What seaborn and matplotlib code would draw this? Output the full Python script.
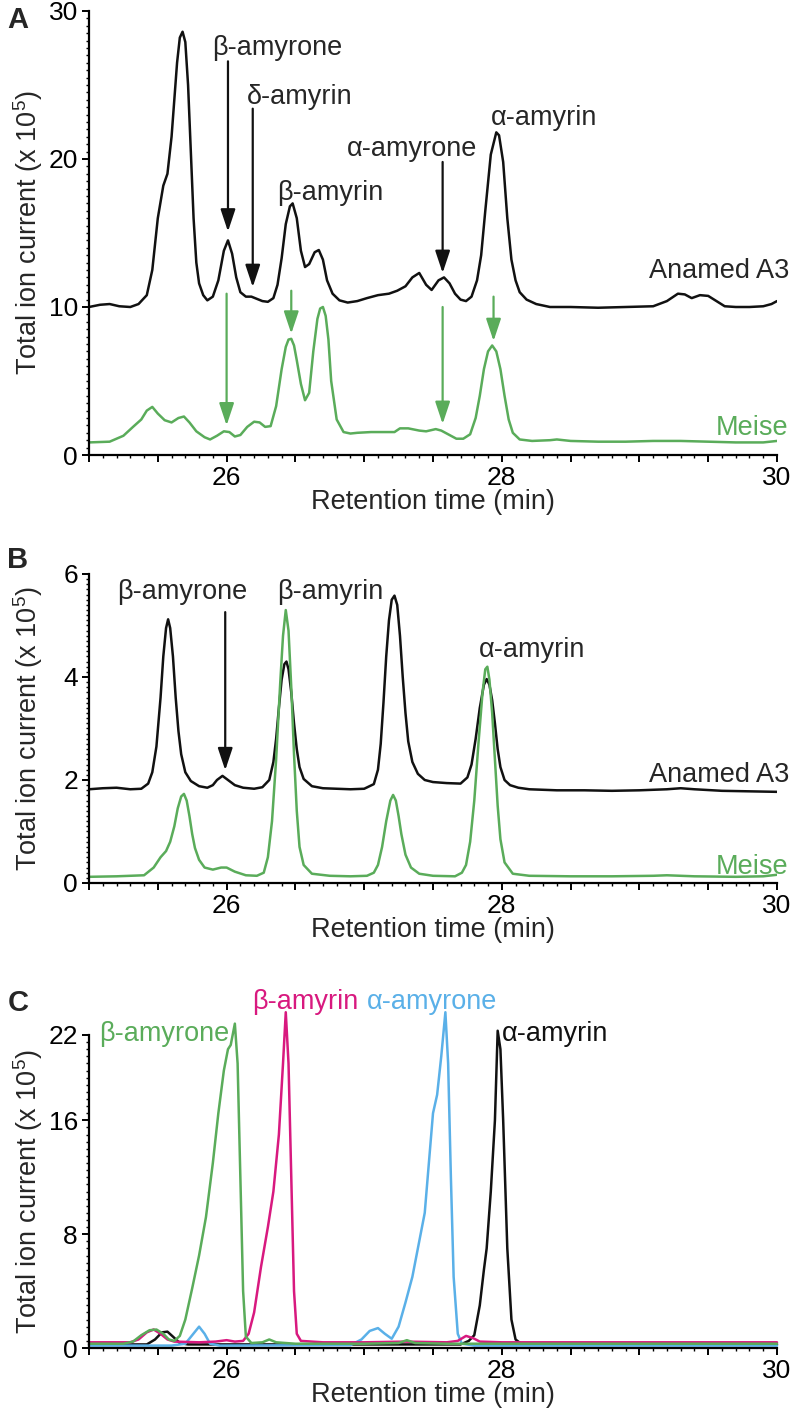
import numpy as np
import seaborn as sns
import matplotlib
matplotlib.use("Agg")
from matplotlib import pyplot as plt
from matplotlib.ticker import MultipleLocator, FixedLocator, FuncFormatter

# ---- panel A : resin samples ----
a_anamed_t = [25.00, 25.08, 25.15, 25.22, 25.30, 25.36, 25.42, 25.46, 25.50, 25.54, 25.57, 25.60, 25.62,
              25.64, 25.66, 25.68, 25.70, 25.72, 25.74, 25.76, 25.78, 25.80, 25.83, 25.86, 25.90, 25.94,
              25.98, 26.01, 26.04, 26.07, 26.10, 26.14, 26.18, 26.22, 26.26, 26.30, 26.34, 26.37, 26.40,
              26.43, 26.46, 26.48, 26.51, 26.54, 26.57, 26.60, 26.64, 26.67, 26.70, 26.73, 26.77, 26.82,
              26.88, 26.95, 27.02, 27.10, 27.18, 27.24, 27.30, 27.35, 27.40, 27.45, 27.49, 27.54, 27.58,
              27.62, 27.66, 27.70, 27.74, 27.78, 27.82, 27.85, 27.88, 27.92, 27.96, 27.98, 28.01, 28.04,
              28.07, 28.10, 28.13, 28.18, 28.25, 28.35, 28.50, 28.70, 28.90, 29.10, 29.20, 29.28, 29.33,
              29.38, 29.44, 29.50, 29.56, 29.62, 29.70, 29.80, 29.90, 29.96, 30.00]
a_anamed_y = [10.0, 10.15, 10.2, 10.05, 10.0, 10.2, 10.8, 12.5, 16.0, 18.2, 19.0, 21.5, 24.0,
              26.5, 28.2, 28.6, 27.9, 25.0, 20.5, 16.0, 13.0, 11.6, 10.8, 10.45, 10.7, 11.8,
              13.8, 14.5, 13.6, 12.0, 11.0, 10.7, 10.7, 10.55, 10.4, 10.35, 10.6, 11.5, 13.3,
              15.6, 16.8, 17.0, 16.0, 13.8, 12.7, 12.9, 13.7, 13.85, 13.2, 11.8, 10.9, 10.45,
              10.3, 10.4, 10.6, 10.8, 10.9, 11.1, 11.4, 12.0, 12.3, 11.5, 11.15, 11.8, 12.0,
              11.6, 10.9, 10.5, 10.4, 10.7, 11.8, 13.5, 16.5, 20.3, 21.8, 21.6, 19.8, 16.0,
              13.2, 11.8, 11.0, 10.5, 10.2, 10.0, 10.0, 9.95, 10.0, 10.05, 10.4, 10.9, 10.85,
              10.6, 10.8, 10.75, 10.4, 10.05, 10.0, 10.0, 10.05, 10.2, 10.4]

a_meise_t = [25.00, 25.15, 25.25, 25.32, 25.38, 25.42, 25.46, 25.50, 25.55, 25.60, 25.65, 25.69, 25.73,
             25.78, 25.84, 25.88, 25.93, 25.98, 26.02, 26.06, 26.10, 26.15, 26.20, 26.24, 26.28, 26.32,
             26.36, 26.40, 26.43, 26.45, 26.47, 26.49, 26.51, 26.54, 26.57, 26.60, 26.63, 26.66, 26.68,
             26.70, 26.72, 26.74, 26.76, 26.80, 26.85, 26.90, 26.95, 27.05, 27.15, 27.22, 27.26, 27.32,
             27.40, 27.45, 27.52, 27.56, 27.62, 27.67, 27.72, 27.77, 27.81, 27.84, 27.87, 27.90, 27.93,
             27.96, 27.99, 28.02, 28.05, 28.08, 28.13, 28.22, 28.35, 28.40, 28.50, 28.70, 28.90, 29.10,
             29.30, 29.50, 29.70, 29.90, 30.00]
a_meise_y = [0.85, 0.9, 1.3, 1.9, 2.4, 3.0, 3.25, 2.8, 2.35, 2.2, 2.5, 2.6, 2.2,
             1.6, 1.2, 1.05, 1.3, 1.6, 1.55, 1.25, 1.35, 1.9, 2.25, 2.2, 1.9, 1.95,
             3.3, 5.8, 7.3, 7.8, 7.85, 7.4, 6.4, 4.8, 3.7, 4.2, 7.0, 9.2, 9.9,
             10.0, 9.4, 7.8, 5.0, 2.4, 1.55, 1.45, 1.5, 1.55, 1.55, 1.55, 1.8, 1.8,
             1.65, 1.6, 1.75, 1.65, 1.35, 1.1, 1.1, 1.4, 2.5, 4.0, 5.8, 7.0, 7.4,
             7.0, 5.8, 4.0, 2.4, 1.5, 1.05, 0.95, 1.0, 1.05, 0.95, 0.9, 0.9, 0.95,
             0.95, 0.9, 0.85, 0.85, 0.95]

# ---- panel B ----
b_anamed_t = [25.00, 25.10, 25.20, 25.30, 25.38, 25.43, 25.46, 25.49, 25.52, 25.54, 25.56, 25.575, 25.59,
              25.61, 25.63, 25.65, 25.67, 25.70, 25.74, 25.80, 25.86, 25.90, 25.93, 25.97, 26.01, 26.06,
              26.12, 26.20, 26.26, 26.31, 26.34, 26.36, 26.38, 26.40, 26.42, 26.435, 26.45, 26.47, 26.49,
              26.51, 26.53, 26.56, 26.62, 26.70, 26.80, 26.90, 27.00, 27.07, 27.10, 27.12, 27.14, 27.16,
              27.18, 27.20, 27.22, 27.24, 27.26, 27.28, 27.30, 27.32, 27.35, 27.39, 27.44, 27.50, 27.60,
              27.70, 27.75, 27.78, 27.81, 27.84, 27.87, 27.89, 27.91, 27.93, 27.95, 27.97, 27.99, 28.02,
              28.06, 28.12, 28.20, 28.40, 28.60, 28.80, 29.00, 29.20, 29.30, 29.40, 29.60, 29.80, 30.00]
b_anamed_y = [1.82, 1.84, 1.85, 1.82, 1.83, 1.93, 2.15, 2.65, 3.6, 4.4, 4.95, 5.12, 4.95,
              4.4, 3.6, 2.95, 2.5, 2.15, 1.98, 1.88, 1.85, 1.9, 2.0, 2.08, 2.0, 1.9,
              1.85, 1.83, 1.86, 2.0, 2.35, 2.8, 3.4, 3.95, 4.25, 4.3, 4.15, 3.7, 3.1,
              2.6, 2.25, 2.02, 1.88, 1.84, 1.83, 1.82, 1.83, 1.92, 2.2, 2.7, 3.5, 4.4,
              5.1, 5.5, 5.58, 5.4, 4.8, 4.0, 3.3, 2.75, 2.35, 2.12, 2.0, 1.96, 1.94,
              1.93, 2.05, 2.3, 2.8, 3.4, 3.85, 3.96, 3.85, 3.55, 3.1, 2.6, 2.25, 2.0,
              1.9, 1.85, 1.82, 1.8, 1.8, 1.79, 1.8, 1.82, 1.84, 1.82, 1.79, 1.78, 1.77]

b_meise_t = [25.00, 25.20, 25.40, 25.47, 25.52, 25.56, 25.59, 25.62, 25.645, 25.67, 25.69, 25.71, 25.73,
             25.75, 25.77, 25.80, 25.84, 25.90, 25.96, 26.00, 26.06, 26.14, 26.22, 26.27, 26.30, 26.33,
             26.36, 26.39, 26.41, 26.43, 26.45, 26.47, 26.49, 26.51, 26.53, 26.56, 26.62, 26.75, 26.90,
             27.02, 27.07, 27.10, 27.13, 27.16, 27.19, 27.21, 27.23, 27.25, 27.27, 27.30, 27.34, 27.40,
             27.50, 27.66, 27.71, 27.74, 27.77, 27.80, 27.83, 27.86, 27.88, 27.895, 27.91, 27.93, 27.95,
             27.97, 27.99, 28.02, 28.08, 28.20, 28.50, 28.80, 29.10, 29.20, 29.40, 29.70, 29.90, 30.00]
b_meise_y = [0.12, 0.13, 0.15, 0.3, 0.5, 0.62, 0.8, 1.1, 1.45, 1.68, 1.73, 1.6, 1.3,
             0.95, 0.68, 0.45, 0.3, 0.26, 0.3, 0.3, 0.22, 0.15, 0.14, 0.2, 0.5, 1.2,
             2.4, 3.9, 4.8, 5.3, 4.9, 3.8, 2.5, 1.4, 0.7, 0.35, 0.18, 0.14, 0.13,
             0.14, 0.2, 0.35, 0.7, 1.2, 1.6, 1.71, 1.6, 1.3, 0.95, 0.55, 0.3, 0.18,
             0.14, 0.13, 0.2, 0.35, 0.8, 1.6, 2.7, 3.7, 4.15, 4.2, 3.95, 3.3, 2.4,
             1.5, 0.85, 0.4, 0.18, 0.14, 0.13, 0.13, 0.14, 0.15, 0.13, 0.12, 0.13, 0.16]

# ---- panel C : standards ----
c_bamyrone_t = [25.00, 25.25, 25.32, 25.38, 25.44, 25.49, 25.54, 25.58, 25.62, 25.66, 25.70, 25.75, 25.80,
                25.85, 25.90, 25.94, 25.98, 26.01, 26.03, 26.06, 26.08, 26.10, 26.12, 26.14, 26.18, 26.26,
                26.31, 26.36, 26.50, 27.00, 27.25, 27.31, 27.37, 27.60, 28.50, 30.00]
c_bamyrone_y = [0.3, 0.3, 0.45, 0.9, 1.25, 1.3, 1.0, 0.6, 0.5, 0.85, 2.0, 4.2, 6.5,
                9.2, 13.0, 16.5, 19.5, 21.0, 21.3, 22.8, 20.0, 12.0, 4.0, 0.8, 0.35, 0.4,
                0.6, 0.4, 0.3, 0.3, 0.35, 0.55, 0.35, 0.3, 0.3, 0.3]

c_bamyrin_t = [25.00, 25.30, 25.36, 25.42, 25.47, 25.52, 25.57, 25.62, 25.80, 25.92, 26.00, 26.06, 26.12,
               26.16, 26.20, 26.25, 26.30, 26.34, 26.38, 26.41, 26.43, 26.45, 26.47, 26.49, 26.51, 26.54,
               26.70, 27.00, 27.30, 27.60, 27.68, 27.74, 27.79, 27.84, 28.00, 30.00]
c_bamyrin_y = [0.4, 0.4, 0.6, 1.1, 1.3, 1.0, 0.6, 0.45, 0.4, 0.45, 0.55, 0.45, 0.5,
               1.0, 2.5, 5.7, 8.5, 11.0, 15.0, 20.0, 23.6, 20.0, 12.0, 4.0, 1.0, 0.5,
               0.4, 0.4, 0.45, 0.4, 0.5, 0.85, 0.7, 0.45, 0.4, 0.4]

c_aamyrone_t = [25.00, 25.60, 25.70, 25.75, 25.80, 25.84, 25.88, 25.95, 26.90, 26.98, 27.04, 27.10, 27.15,
                27.20, 27.25, 27.30, 27.35, 27.40, 27.44, 27.47, 27.50, 27.53, 27.56, 27.59, 27.61, 27.63,
                27.65, 27.68, 27.71, 27.80, 30.00]
c_aamyrone_y = [0.17, 0.17, 0.3, 0.9, 1.5, 1.0, 0.3, 0.17, 0.2, 0.6, 1.2, 1.4, 1.0,
                0.65, 1.5, 3.2, 5.0, 7.5, 9.5, 13.0, 16.5, 17.8, 20.5, 23.6, 20.0, 12.0,
                5.0, 1.0, 0.3, 0.17, 0.17]

c_aamyrin_t = [25.00, 25.42, 25.48, 25.53, 25.57, 25.61, 25.66, 25.72, 27.70, 27.76, 27.80, 27.84, 27.87,
               27.89, 27.92, 27.95, 27.97, 27.99, 28.01, 28.04, 28.07, 28.10, 28.14, 30.00]
c_aamyrin_y = [0.25, 0.25, 0.6, 1.1, 1.15, 0.8, 0.35, 0.25, 0.25, 0.5, 0.9, 3.0, 5.5,
               7.0, 11.0, 16.0, 22.3, 21.0, 16.0, 7.0, 2.0, 0.6, 0.3, 0.25]

GREEN = '#5aac5a'
MAGENTA = '#d8197f'
BLUE = '#5ab0e8'
BLACK = '#111111'

sns.set_style("ticks")
plt.rcParams['font.family'] = ['Liberation Sans', 'DejaVu Sans']
plt.rcParams['mathtext.fontset'] = 'custom'
plt.rcParams['mathtext.rm'] = 'Liberation Sans'

fig = plt.figure(figsize=(7.93, 14.08), dpi=100)
W, H = 793.0, 1408.0


def make_axes(top, bottom):
    return fig.add_axes([89 / W, 1 - bottom / H, 688 / W, (bottom - top) / H])


def style_axes(ax, ymax, ymajor, yminor):
    ax.set_xlim(25, 30)
    ax.set_ylim(0, ymax)
    sns.despine(ax=ax)
    for s in ['left', 'bottom']:
        ax.spines[s].set_linewidth(1.6)
        ax.spines[s].set_color('black')
    ax.xaxis.set_major_locator(MultipleLocator(0.5))
    ax.xaxis.set_minor_locator(MultipleLocator(0.1))
    ax.xaxis.set_major_formatter(FuncFormatter(
        lambda v, p: '%d' % round(v) if abs(v - round(v)) < 1e-6 and round(v) % 2 == 0 and v > 25.5 else ''))
    ax.yaxis.set_major_locator(FixedLocator(ymajor))
    ax.yaxis.set_minor_locator(MultipleLocator(yminor))
    ax.tick_params(axis='both', which='major', direction='out', length=5, width=1.4,
                   labelsize=19, pad=3, colors='black')
    ax.tick_params(axis='both', which='minor', direction='out', length=2.5, width=1.0, colors='black')
    ax.set_xlabel('')
    ax.set_ylabel('')


def ylabel(top, bottom):
    fig.text(28 / W, 1 - (top + bottom) / 2 / H, 'Total ion current (x 10$^5$)',
             rotation=90, ha='center', va='center', fontsize=19.5)


def xlabel(bottom):
    fig.text(433 / W, 1 - (bottom + 47) / H, 'Retention time (min)', ha='center', va='center', fontsize=19.5)


def arrow(ax, x, y0, y1, color):
    ax.annotate('', xy=(x, y1), xytext=(x, y0),
                arrowprops=dict(arrowstyle='-|>,head_length=0.9,head_width=0.3', color=color,
                                lw=1.6, mutation_scale=15, shrinkA=0, shrinkB=0))


LW = 1.8

# Panel A
axA = make_axes(11, 455)
sns.lineplot(x=a_anamed_t, y=a_anamed_y, ax=axA, color=BLACK, lw=LW, estimator=None)
sns.lineplot(x=a_meise_t, y=a_meise_y, ax=axA, color=GREEN, lw=LW, estimator=None)
style_axes(axA, 30, [0, 10, 20, 30], 0.5)
axA.text(26.37, 27.5, 'β-amyrone', ha='center', va='center', fontsize=19.5)
axA.text(26.53, 24.2, 'δ-amyrin', ha='center', va='center', fontsize=19.5)
axA.text(26.75, 17.7, 'β-amyrin', ha='center', va='center', fontsize=19.5)
axA.text(27.35, 20.7, 'α-amyrone', ha='center', va='center', fontsize=19.5)
axA.text(28.31, 22.8, 'α-amyrin', ha='center', va='center', fontsize=19.5)
axA.text(29.58, 12.4, 'Anamed A3', ha='center', va='center', fontsize=19.5)
axA.text(30.08, 1.8, 'Meise', ha='right', va='center', fontsize=19.5, color=GREEN)
arrow(axA, 26.01, 26.6, 15.1, BLACK)
arrow(axA, 26.19, 23.4, 11.35, BLACK)
arrow(axA, 27.57, 19.8, 12.3, BLACK)
arrow(axA, 26.00, 10.9, 2.0, GREEN)
arrow(axA, 26.47, 11.1, 8.2, GREEN)
arrow(axA, 27.57, 10.0, 2.1, GREEN)
arrow(axA, 27.94, 10.7, 7.7, GREEN)
ylabel(11, 455)
xlabel(455)
fig.text(18 / W, 1 - 20 / H, 'A', fontsize=21, fontweight='bold', ha='center', va='center')

# Panel B
axB = make_axes(574, 883)
sns.lineplot(x=b_anamed_t, y=b_anamed_y, ax=axB, color=BLACK, lw=LW, estimator=None)
sns.lineplot(x=b_meise_t, y=b_meise_y, ax=axB, color=GREEN, lw=LW, estimator=None)
style_axes(axB, 6, [0, 2, 4, 6], 0.1)
axB.text(25.68, 5.65, 'β-amyrone', ha='center', va='center', fontsize=19.5)
axB.text(26.75, 5.65, 'β-amyrin', ha='center', va='center', fontsize=19.5)
axB.text(28.22, 4.52, 'α-amyrin', ha='center', va='center', fontsize=19.5)
axB.text(29.58, 2.1, 'Anamed A3', ha='center', va='center', fontsize=19.5)
axB.text(30.08, 0.32, 'Meise', ha='right', va='center', fontsize=19.5, color=GREEN)
arrow(axB, 25.99, 5.26, 2.19, BLACK)
ylabel(574, 883)
xlabel(883)
fig.text(18 / W, 1 - 560 / H, 'B', fontsize=21, fontweight='bold', ha='center', va='center')

# Panel C
axC = make_axes(1035, 1348)
sns.lineplot(x=c_aamyrin_t, y=c_aamyrin_y, ax=axC, color=BLACK, lw=LW, estimator=None, clip_on=False)
sns.lineplot(x=c_aamyrone_t, y=c_aamyrone_y, ax=axC, color=BLUE, lw=LW, estimator=None, clip_on=False)
sns.lineplot(x=c_bamyrin_t, y=c_bamyrin_y, ax=axC, color=MAGENTA, lw=LW, estimator=None, clip_on=False)
sns.lineplot(x=c_bamyrone_t, y=c_bamyrone_y, ax=axC, color=GREEN, lw=LW, estimator=None, clip_on=False)
style_axes(axC, 22, [0, 8, 16, 22], 0.5)
axC.text(25.55, 22.1, 'β-amyrone', ha='center', va='center', fontsize=19.5, color=GREEN)
axC.text(26.57, 24.3, 'β-amyrin', ha='center', va='center', fontsize=19.5, color=MAGENTA)
axC.text(27.49, 24.3, 'α-amyrone', ha='center', va='center', fontsize=19.5, color=BLUE)
axC.text(28.39, 22.1, 'α-amyrin', ha='center', va='center', fontsize=19.5, color=BLACK)
ylabel(1035, 1348)
xlabel(1348)
fig.text(18 / W, 1 - 1003 / H, 'C', fontsize=21, fontweight='bold', ha='center', va='center')

fig.savefig('out.png', dpi=100)
